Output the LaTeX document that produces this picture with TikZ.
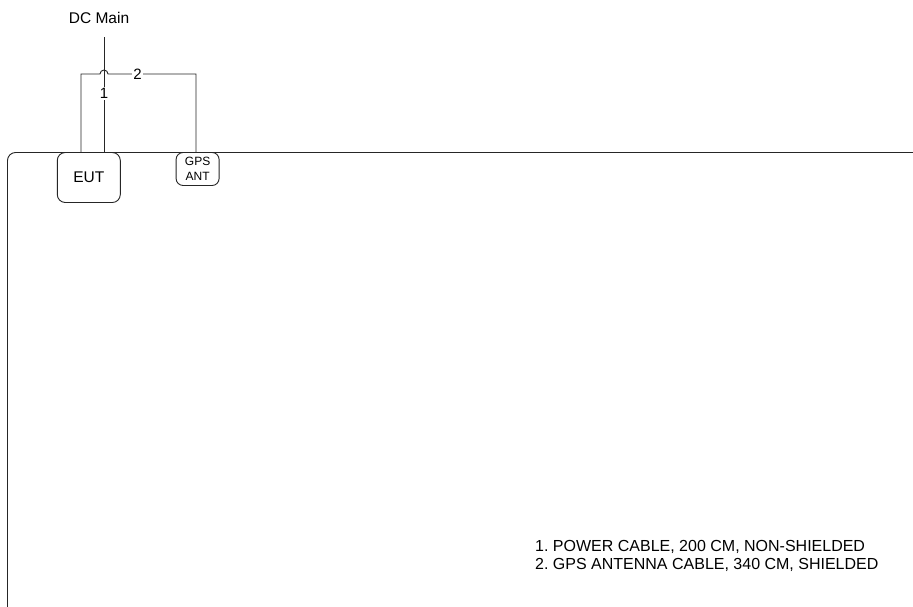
\documentclass[tikz,border=0pt]{standalone}
\usepackage{fontspec}
\setmainfont{Liberation Sans}
\frenchspacing
\begin{document}
\begin{tikzpicture}[x=1pt,y=-1pt,
  wire/.style={line width=0.9pt,draw=black!85},
  box/.style={draw=black!85,line width=0.9pt,rounded corners=8pt,inner sep=0pt},
  lbl/.style={fill=white,inner sep=1pt,font=\fontsize{15}{15}\selectfont},
  txt/.style={inner sep=0pt,font=\fontsize{15.5}{17.5}\selectfont}]
\useasboundingbox (0,0) rectangle (913,606);
\fill[white] (0,0) rectangle (913,606);
% bench outline
\draw[wire,rounded corners=8pt] (7.5,607) -- (7.5,152.5) -- (914,152.5);
% nodes
\node[box,minimum width=63pt,minimum height=50pt,txt] (eut) at (88.8,177.5) {EUT};
\node[box,minimum width=43pt,minimum height=33pt,align=center,font=\fontsize{12}{14.5}\selectfont,rounded corners=7pt] (gps) at (197.6,169) {GPS\\ANT};
\node[txt,anchor=base] (dc) at (99,23) {DC Main};
\coordinate (dctop) at (104,37);
\coordinate (c1) at (104,152.5);
\coordinate (c2a) at (81,152.5);
\coordinate (c2b) at (81,74);
\coordinate (h1) at (100,74);
\coordinate (c2c) at (196,74);
\coordinate (c2d) at (196,152.5);
% cable 1
\draw[wire] (dctop) -- (c1) node[lbl,pos=0.49] (l1) {1};
% cable 2 with hop
\draw[wire] (c2a) -- (c2b) -- (h1) arc[start angle=180,end angle=360,radius=4] -- (c2c) -- (c2d);
\node[lbl] (l2) at (137.5,74) {2};
% legend
\node[txt,anchor=base west,align=left,font=\fontsize{16}{18}\selectfont] (legend) at (535,569) {1. POWER CABLE, 200 CM, NON-SHIELDED\\2. GPS ANTENNA CABLE, 340 CM, SHIELDED};
\end{tikzpicture}
\end{document}
